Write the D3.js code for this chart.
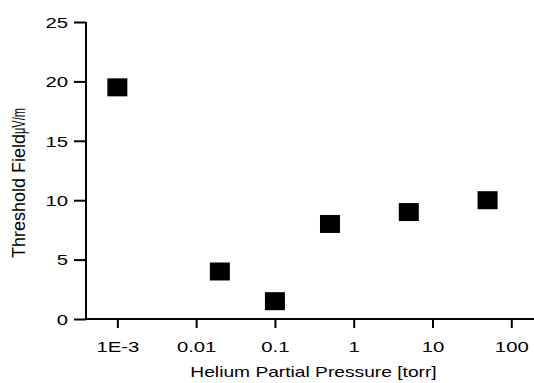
<!DOCTYPE html>
<html><head><meta charset="utf-8">
<script src="https://cdn.jsdelivr.net/npm/d3@7"></script>
<style>body{margin:0;background:#fff}svg{display:block}text{font-family:"Liberation Sans",Arial,sans-serif;fill:#000}</style>
</head><body><div id="c"></div>
<script>
const pressures = [0.001, 0.02, 0.1, 0.5, 5, 50];
const fields = [19.5, 4, 1.5, 8, 9, 10];
const xTickValues = [0.001, 0.01, 0.1, 1, 10, 100];
const xTickLabels = ["1E-3", "0.01", "0.1", "1", "10", "100"];
const yTickValues = [0, 5, 10, 15, 20, 25];
const xTitle = "Helium Partial Pressure [torr]";
const yTitle = "Threshold Field";
const yUnit = "\u03bcV/m";

const W = 534, H = 383, SX = 1.4;
const svg = d3.select("#c").append("svg").attr("width", W).attr("height", H);
const x = d3.scaleLog().domain([4e-4, 200]).range([86, 535]);
const y = d3.scaleLinear().domain([0, 25]).range([319, 22]);

const xMinor = [];
for (let e = -4; e <= 2; e++) for (let m = 2; m <= 9; m++) { const v = m * Math.pow(10, e); if (v >= 4e-4 && v <= 200) xMinor.push(v); }
const yMinor = d3.range(2.5, 25, 5);

const gx = svg.append("g").attr("transform", `translate(0,${y(0)})`);
gx.call(d3.axisBottom(x).tickValues(xMinor).tickSize(5).tickFormat(""));
gx.call(d3.axisBottom(x).tickValues(xTickValues).tickSize(9).tickPadding(14)
  .tickFormat((d, i) => xTickLabels[i]));
gx.selectAll(".tick line").attr("stroke-width", 2);
gx.selectAll(".tick text").attr("font-size", 14.5).attr("transform", `scale(${SX},1)`);
gx.selectAll(".domain").attr("stroke-width", 2).attr("d", `M${x.range()[0]},0H${x.range()[1]}`);

const gy = svg.append("g").attr("transform", `translate(86,0)`);
gy.call(d3.axisLeft(y).tickValues(yMinor).tickSize(6).tickFormat(""));
gy.call(d3.axisLeft(y).tickValues(yTickValues).tickSize(12).tickPadding(5));
gy.selectAll(".tick line").attr("stroke-width", 2);
gy.selectAll(".tick text").attr("font-size", 14.5).attr("dy", "0.36em")
  .attr("transform", `scale(${SX},1)`).attr("x", -18 / SX);
gy.selectAll(".domain").attr("stroke-width", 2).attr("d", `M0,${y(0)+1}V${y(25)}`);

svg.append("text").attr("x", 0).attr("y", 0).attr("font-size", 15)
  .attr("text-anchor", "middle")
  .attr("transform", `translate(${(190+437)/2},377) scale(1.28,1)`)
  .text(xTitle);

const yt = svg.append("text").attr("font-size", 18)
  .attr("transform", "translate(25,258) rotate(-90) scale(1,1.05)")
  .attr("x", 0).attr("y", 0);
yt.append("tspan").text(yTitle);
yt.append("tspan").attr("textLength", 26).attr("lengthAdjust", "spacingAndGlyphs").attr("dx", 0).text(yUnit);

svg.append("g").selectAll("rect").data(pressures).join("rect")
  .attr("x", d => x(d) - 10).attr("y", (d, i) => y(fields[i]) - 9)
  .attr("width", 20).attr("height", 18).attr("fill", "#000");
</script></body></html>
